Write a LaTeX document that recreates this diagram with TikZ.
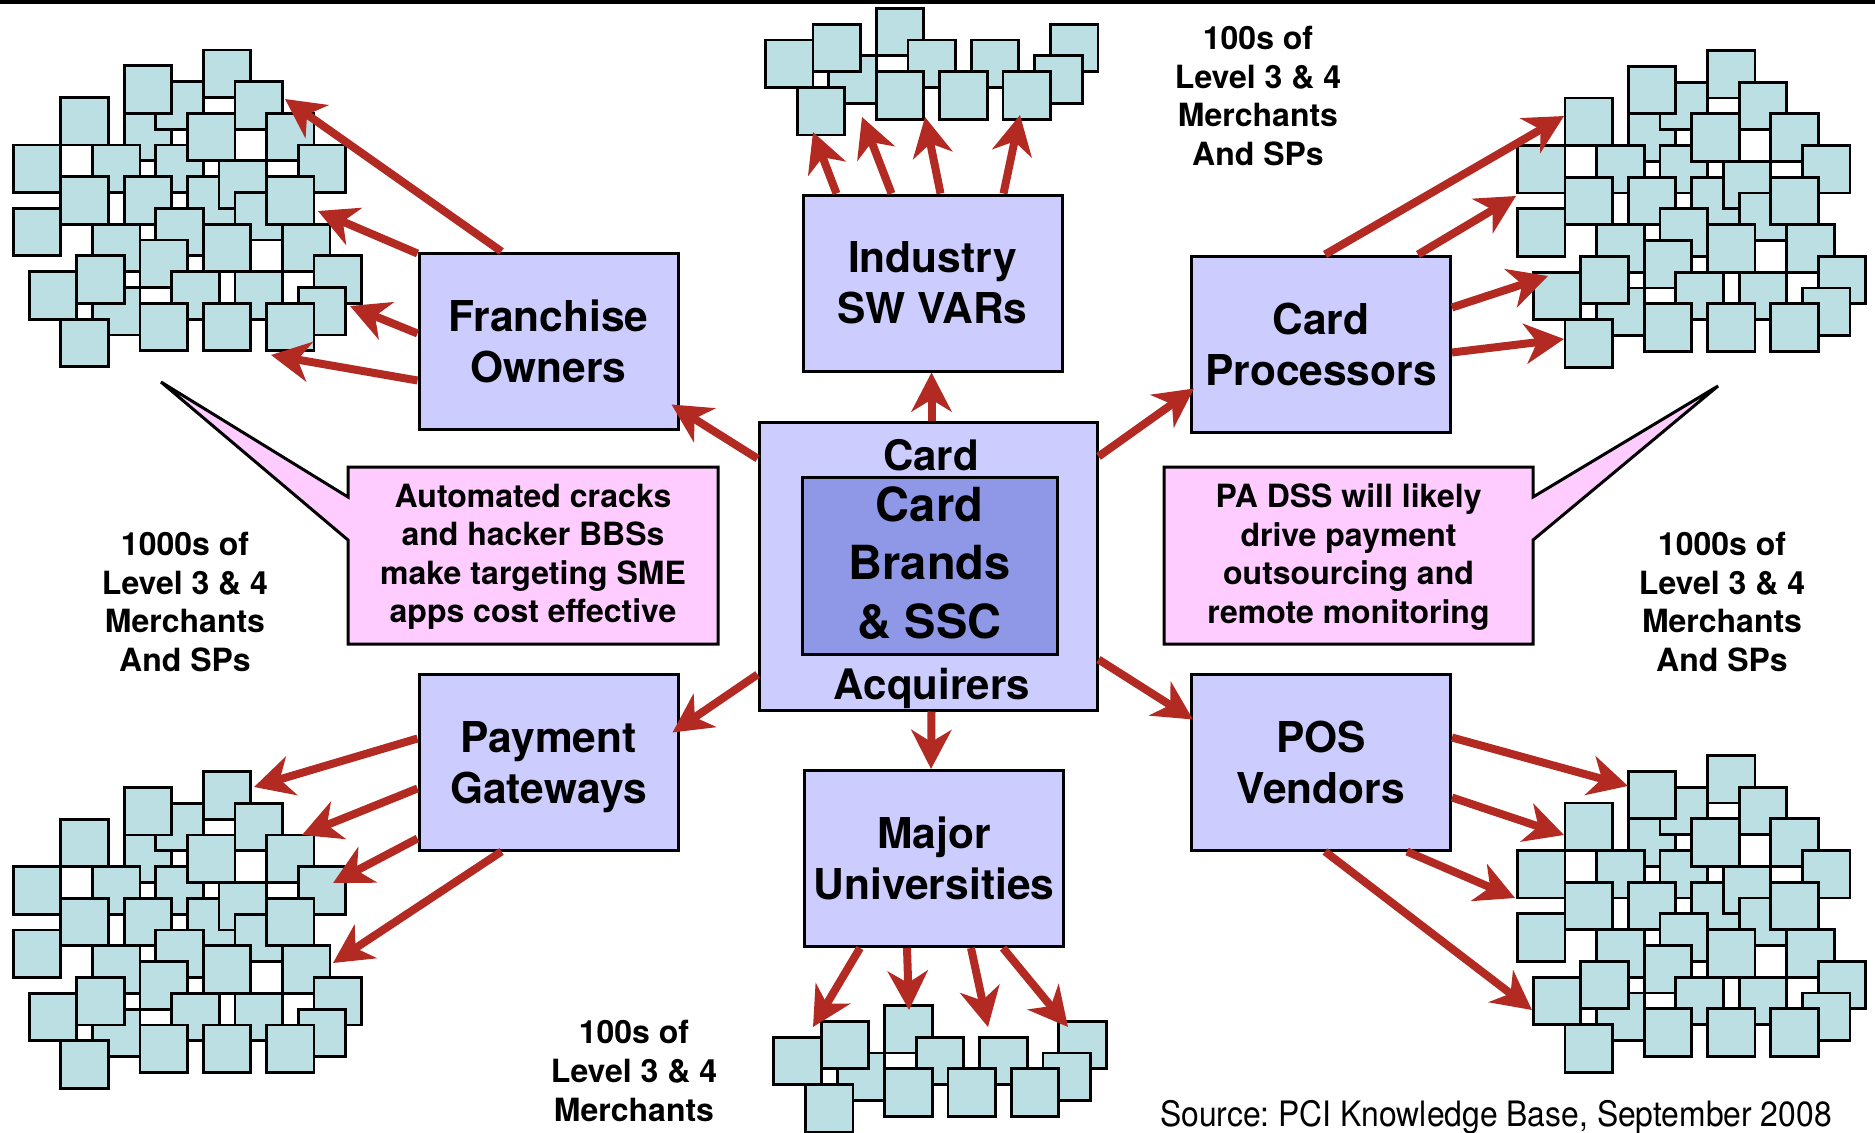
\documentclass[tikz,border=0pt]{standalone}
\usepackage{fontspec}
\usepackage{graphicx}
\setmainfont{TeX Gyre Heros}
\usetikzlibrary{arrows.meta,calc}

\definecolor{boxfill}{RGB}{204,204,255}
\definecolor{corefill}{RGB}{142,152,230}
\definecolor{notefill}{RGB}{255,204,255}
\definecolor{tilefill}{RGB}{187,223,226}
\definecolor{arrowred}{RGB}{178,42,34}

% a large cloud of overlapping merchant tiles on a 15.83pt grid
\newcommand\bigtiles[2]{%
  \foreach \i/\j in {7/4,9/6,9/2,12/0,7/1,14/2,11/4,16/4,3/3,0/6,5/6,18/6,
                     11/8,13/7,14/9,16/8,3/8,7/8,0/10,9/10,5/11,12/11,17/11,
                     8/12,5/15,4/13,19/13,1/14,10/14,14/14,18/15,8/16,12/16,
                     16/16,3/17}{%
    \draw[tile] ({#1+\i*15.83},{#2+\j*15.83}) rectangle ++(47.5,47.5);}}
% a small strip of merchant tiles
\newcommand\smalltiles[2]{%
  \foreach \i/\j in {4/3,3/1,2/5,0/2,7/0,9/2,7/4,13/2,11/4,18/1,17/3,15/4}{%
    \draw[tile] ({#1+\i*15.83},{#2+\j*15.83}) rectangle ++(47.5,47.5);}}
% a line whose descenders do not shift the centring of its box
\newcommand\nodepth[1]{\raisebox{0pt}[\height][0pt]{#1}}

\begin{document}
\begin{tikzpicture}[x=1pt,y=-1pt,
  tile/.style={draw=black,line width=2.8pt,fill=tilefill},
  party/.style={draw=black,line width=3pt,fill=boxfill,minimum width=259pt,
    minimum height=176pt,inner sep=0pt,align=center,
    font=\fontsize{42.5}{51}\selectfont\bfseries},
  flow/.style={draw=arrowred,line width=8pt,
    -{Stealth[length=39pt,width=40pt,inset=12pt]}},
  note/.style={draw=black,line width=3pt,fill=notefill,line join=miter},
  notetext/.style={align=center,inner sep=0pt,
    font=\fontsize{32}{38.5}\selectfont\bfseries},
  countlabel/.style={align=center,inner sep=0pt,
    font=\fontsize{32}{38.6}\selectfont\bfseries},
  hubtext/.style={anchor=base,inner sep=0pt,
    font=\fontsize{42}{50}\selectfont\bfseries}]

\fill[white] (0,0) rectangle (1875,1133);
\useasboundingbox (0,0) rectangle (1875,1133);
\draw[line width=3.5pt] (0,2) -- (1875,2);

% merchant tile clouds
\bigtiles{13.3}{50}
\bigtiles{13.3}{771.7}
\bigtiles{1517.5}{50.5}
\bigtiles{1517.5}{755.5}
\smalltiles{765.5}{8.3}
\smalltiles{773.8}{1005.5}

% central box
\node[draw=black,line width=3pt,fill=boxfill,minimum width=338pt,
  minimum height=288pt] (hub) at (928,566) {};
\node[draw=black,line width=3pt,fill=corefill,minimum width=255pt,
  minimum height=177pt] (core) at (929.5,565.5) {};
\node[align=center,inner sep=0pt,
  font=\fontsize{47}{58.3}\selectfont\bfseries] (coretext) at (929.5,563)
  {Card\\Brands\\\& SSC};
\node[hubtext] (hubtop) at (931,470) {Card};
\node[hubtext] (hubbottom) at (932,699) {Acquirers};

% parties around the hub
\node[party] (fo) at (548.5,341) {Franchise\\Owners};
\node[party] (sw) at (932.5,283) {Industry\\SW VARs};
\node[party] (cp) at (1321,344) {Card\\Processors};
\node[party] (pg) at (548.5,762) {Payment\\\nodepth{Gateways}};
\node[party] (mu) at (934,858.5) {Major\\Universities};
\node[party] (pos) at (1321,762) {POS\\Vendors};

% arrow targets inside the tile clouds
\coordinate (tl1) at (285,99);   \coordinate (tl2) at (318,211);
\coordinate (tl3) at (350,306);  \coordinate (tl4) at (271,355);
\coordinate (tc1) at (813,132);  \coordinate (tc2) at (862,117);
\coordinate (tc3) at (925,117);  \coordinate (tc4) at (1020,115);
\coordinate (tr1) at (1564,116); \coordinate (tr2) at (1516,196);
\coordinate (tr3) at (1548,276); \coordinate (tr4) at (1564,339);
\coordinate (bl1) at (254,787);  \coordinate (bl2) at (302,835);
\coordinate (bl3) at (333,883);  \coordinate (bl4) at (333,963);
\coordinate (bc1) at (813,1027); \coordinate (bc2) at (909,1010);
\coordinate (bc3) at (988,1027); \coordinate (bc4) at (1068,1027);
\coordinate (br1) at (1628,786); \coordinate (br2) at (1564,835);
\coordinate (br3) at (1515,898); \coordinate (br4) at (1532,1010);

% hub to parties
\draw[flow] ($(hub.north west)+(0,38)$) -- ($(fo.south east)+(-8,-26)$);
\draw[flow] ($(hub.north west)+(174,0)$) -- ($(sw.south west)+(130,0)$);
\draw[flow] ($(hub.north east)+(0,36)$) -- ($(cp.south west)+(4,-45)$);
\draw[flow] ($(hub.north west)+(0,254)$) -- ($(pg.north east)+(-7,60)$);
\draw[flow] ($(hub.south west)+(174,0)$) -- ($(mu.north west)+(128,0)$);
\draw[flow] ($(hub.north east)+(0,239)$) -- ($(pos.north west)+(3,47)$);

% parties to merchants
\draw[flow] ($(fo.north west)+(84,0)$) -- (tl1);
\draw[flow] ($(fo.north west)+(0,2)$) -- (tl2);
\draw[flow] ($(fo.north west)+(0,82)$) -- (tl3);
\draw[flow] ($(fo.north west)+(0,129)$) -- (tl4);

\draw[flow] ($(sw.north west)+(35,0)$) -- (tc1);
\draw[flow] ($(sw.north west)+(90,0)$) -- (tc2);
\draw[flow] ($(sw.north west)+(139,0)$) -- (tc3);
\draw[flow] ($(sw.north west)+(202,0)$) -- (tc4);

\draw[flow] ($(cp.north west)+(135,0)$) -- (tr1);
\draw[flow] ($(cp.north west)+(228,0)$) -- (tr2);
\draw[flow] ($(cp.north east)+(0,53)$) -- (tr3);
\draw[flow] ($(cp.north east)+(0,98)$) -- (tr4);

\draw[flow] ($(pg.north west)+(0,66)$) -- (bl1);
\draw[flow] ($(pg.north west)+(0,116)$) -- (bl2);
\draw[flow] ($(pg.north west)+(0,166)$) -- (bl3);
\draw[flow] ($(pg.south west)+(84,0)$) -- (bl4);

\draw[flow] ($(mu.south west)+(57,0)$) -- (bc1);
\draw[flow] ($(mu.south west)+(104,0)$) -- (bc2);
\draw[flow] ($(mu.south west)+(168,0)$) -- (bc3);
\draw[flow] ($(mu.south west)+(200,0)$) -- (bc4);

\draw[flow] ($(pos.north east)+(0,65)$) -- (br1);
\draw[flow] ($(pos.north east)+(0,125)$) -- (br2);
\draw[flow] ($(pos.south east)+(-45,0)$) -- (br3);
\draw[flow] ($(pos.south west)+(135,0)$) -- (br4);

% callouts
\draw[note] (348,467) -- (718,467) -- (718,644) -- (348,644) -- (348,540)
  -- (161,382) -- (348,497) -- cycle;
\node[notetext] (n1) at (533,557)
  {Automated cracks\\and hacker BBSs\\make targeting SME\\apps cost effective};
\draw[note] (1164,467) -- (1533,467) -- (1533,497) -- (1718,386)
  -- (1533,540) -- (1533,644) -- (1164,644) -- cycle;
\node[notetext] (n2) at (1348.5,557)
  {PA DSS will likely\\drive payment\\outsourcing and\\remote monitoring};

% merchant counts
\node[countlabel] (l1) at (185,602) {1000s of\\Level 3 \& 4\\Merchants\\And SPs};
\node[countlabel] (l2) at (1722,602) {1000s of\\Level 3 \& 4\\Merchants\\And SPs};
\node[countlabel] (l3) at (1258,96) {100s of\\Level 3 \& 4\\Merchants\\And SPs};
\node[countlabel] (l4) at (634,1071) {100s of\\Level 3 \& 4\\Merchants};

\node[anchor=base west,inner sep=0pt,font=\fontsize{35}{40}\selectfont] (src)
  at (1160,1126)
  {\frenchspacing\scalebox{0.91}[1]{Source: PCI Knowledge Base, September 2008}};
\end{tikzpicture}
\end{document}
